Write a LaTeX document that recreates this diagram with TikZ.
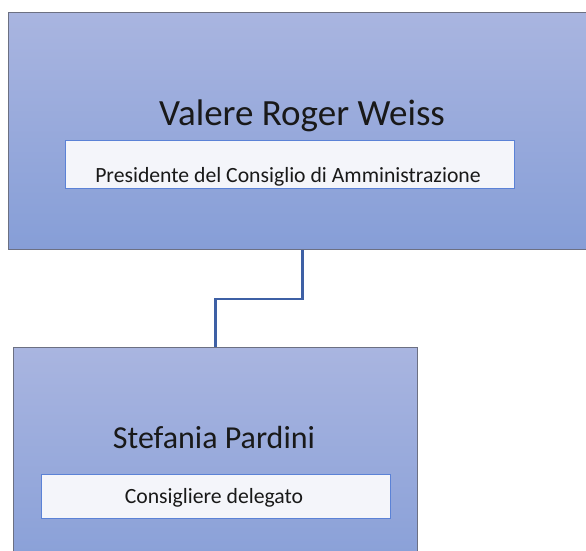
\documentclass[tikz,border=0pt]{standalone}
\usepackage{fontspec}
\setmainfont{Carlito}
\usetikzlibrary{positioning}
\definecolor{orgtop}{RGB}{169,181,224}
\definecolor{orgbot}{RGB}{134,158,215}
\definecolor{orgedge}{RGB}{108,112,130}
\definecolor{rolefill}{RGB}{244,245,250}
\definecolor{roleedge}{RGB}{91,130,214}
\definecolor{linkblue}{RGB}{62,96,165}
\definecolor{orgtext}{RGB}{25,25,25}
\begin{document}
\begin{tikzpicture}[
  x=1pt,y=-1pt,
  person/.style={draw=orgedge,line width=1pt,top color=orgtop,bottom color=orgbot,inner sep=0pt,anchor=north west,minimum height=237pt},
  rolebox/.style={draw=roleedge,line width=0.9pt,fill=rolefill,inner sep=0pt,anchor=north west},
  personname/.style={anchor=base,inner sep=0pt,text=orgtext,font=\fontsize{37}{44}\selectfont},
  roletext/.style={anchor=base,inner sep=0pt,text=orgtext,font=\fontsize{21.7}{26}\selectfont},
  link/.style={draw=linkblue,line width=2.4pt}
]
\useasboundingbox (0,0) rectangle (586,550);
\clip (0,0) rectangle (586,550);
% president
\node[person,minimum width=588pt] (pres) at (8,12) {};
\node[rolebox,minimum width=449pt,minimum height=48pt] (presrole) at (65,140) {};
\node[personname] (presname) at (302,125) {Valere Roger Weiss};
\node[roletext] (prestitle) at (288,182) {Presidente del Consiglio di Amministrazione};
% delegate
\node[person,minimum width=404pt] (cons) at (13,347) {};
\node[rolebox,minimum width=349pt,minimum height=44pt] (consrole) at (41,474) {};
\node[personname,font=\fontsize{32}{38}\selectfont] (consname) at (214,448) {Stefania Pardini};
\node[roletext] (constitle) at (214,503) {Consigliere delegato};
\draw[link] (pres.south) -- ++(0,49) -| (cons.north);
\end{tikzpicture}
\end{document}
